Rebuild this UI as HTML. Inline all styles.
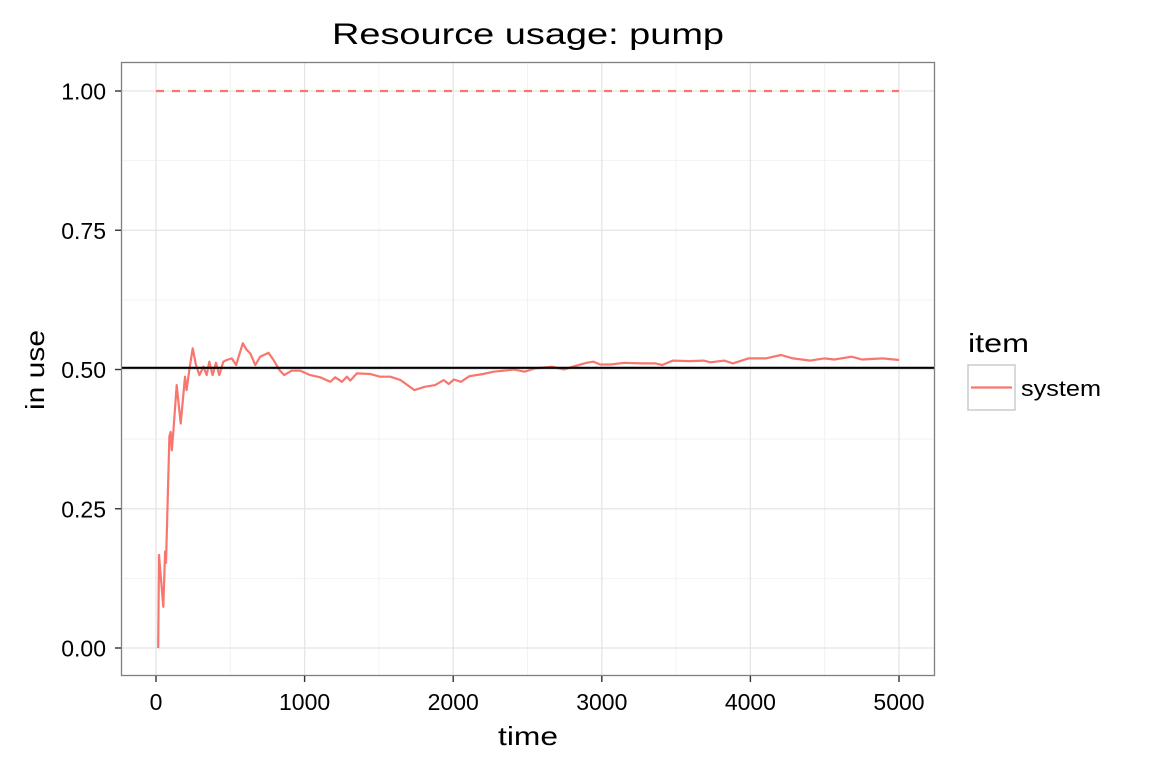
<!DOCTYPE html>
<html><head><meta charset="utf-8"><style>
body{margin:0;background:#fff;}
text{font-family:"Liberation Sans",Arial,sans-serif;}
</style></head><body>
<svg id="chart" width="1152" height="768" xmlns="http://www.w3.org/2000/svg">
<rect width="1152" height="768" fill="#fff"/>
<text x="332" y="44" font-size="30" textLength="392" lengthAdjust="spacingAndGlyphs">Resource usage: pump</text>
<g id="grid"></g>
<g id="marks"></g>
<rect x="121.5" y="62.5" width="813" height="613" fill="none" stroke="#7f7f7f" stroke-width="1.3"/>
<g id="axes"></g>
<text x="498" y="745" font-size="26" textLength="60" lengthAdjust="spacingAndGlyphs">time</text>
<text transform="translate(44,410) rotate(-90)" font-size="26" textLength="80" lengthAdjust="spacingAndGlyphs">in use</text>
<g>
<text x="968" y="352" font-size="26" textLength="61" lengthAdjust="spacingAndGlyphs">item</text>
<rect x="968" y="365" width="47" height="45" fill="#fff" stroke="#cccccc" stroke-width="1.5"/>
<line x1="971" y1="387.5" x2="1012" y2="387.5" stroke="#F8766D" stroke-width="2.2"/>
<text x="1021" y="396" font-size="22" textLength="80" lengthAdjust="spacingAndGlyphs">system</text>
</g>
</svg>
<script>
const times=[15,20,49,61,67,90,99,106,117,139,166,195,206,224,247,269,292,319,341,359,381,404,426,453,476,510,539,584,611,634,668,701,757,791,831,863,914,970,1038,1105,1173,1206,1251,1285,1307,1352,1442,1507,1577,1646,1739,1808,1878,1936,1970,2005,2052,2109,2202,2272,2341,2411,2480,2550,2666,2747,2804,2897,2943,2990,3059,3152,3268,3361,3407,3476,3592,3685,3731,3824,3882,3986,4102,4206,4287,4403,4496,4565,4681,4751,4890,5000];
const values=[0,.167,.074,.173,.153,.38,.388,.355,.39,.472,.403,.487,.463,.499,.538,.508,.49,.505,.49,.514,.49,.512,.49,.514,.517,.52,.508,.547,.535,.529,.508,.523,.53,.517,.499,.49,.498,.498,.49,.486,.478,.486,.478,.487,.48,.493,.492,.487,.487,.481,.463,.469,.472,.481,.474,.482,.478,.488,.492,.496,.498,.5,.496,.502,.505,.5,.505,.512,.514,.509,.509,.512,.511,.511,.508,.516,.515,.516,.513,.516,.511,.52,.52,.526,.52,.516,.52,.518,.523,.518,.52,.517];
const meanValue=[0.503];
const capacity=[1.0];
const xTicks=[0,1000,2000,3000,4000,5000];
const xTickLabels=["0","1000","2000","3000","4000","5000"];
const yTicks=[0,0.25,0.5,0.75,1];
const yTickLabels=["0.00","0.25","0.50","0.75","1.00"];
const X=t=>156+t*743/5000;
const Y=v=>648-v*557;
const NS="http://www.w3.org/2000/svg";
function mk(tag,attrs,parent){const e=document.createElementNS(NS,tag);for(const k in attrs)e.setAttribute(k,attrs[k]);parent.appendChild(e);return e;}
const grid=document.getElementById('grid'),marks=document.getElementById('marks'),axes=document.getElementById('axes');
mk('rect',{x:121,y:62,width:814,height:614,fill:'#fff'},grid);
for(let i=0;i<xTicks.length;i++){
 const xm=X(xTicks[i]+500);
 if(xTicks[i]+500<=5200){const m=mk('line',{x1:xm,x2:xm,y1:62,y2:676,stroke:'#f2f2f2','stroke-width':1},grid);
 
 }
}
for(let i=0;i<yTicks.length;i++){
 if(i<yTicks.length-1){const m=mk('line',{x1:121,x2:935,y1:Y(yTicks[i]+0.125),y2:Y(yTicks[i]+0.125),stroke:'#f2f2f2','stroke-width':1},grid);
 
 }
}
xTicks.forEach((t,i)=>{
 const x=X(t);
 const g=mk('line',{x1:x,x2:x,y1:62,y2:676,stroke:'#e5e5e5','stroke-width':1.3},grid);
 
 
 mk('line',{x1:x,x2:x,y1:676,y2:682,stroke:'#333','stroke-width':1.4},axes);
 const l=mk('text',{x:x,y:710,'font-size':23,'text-anchor':'middle'},axes);
 l.textContent=xTickLabels[i];
 
 
});
yTicks.forEach((v,i)=>{
 const y=Y(v);
 const g=mk('line',{x1:121,x2:935,y1:y,y2:y,stroke:'#e5e5e5','stroke-width':1.3},grid);
 
 
 mk('line',{x1:115,x2:121,y1:y,y2:y,stroke:'#333','stroke-width':1.4},axes);
 const l=mk('text',{x:106,y:y+8.5,'font-size':23,'text-anchor':'end'},axes);
 l.textContent=yTickLabels[i];
 
 
});
const cap=mk('line',{x1:X(0),x2:X(5000),y1:Y(capacity[0]),y2:Y(capacity[0]),stroke:'#F8766D','stroke-width':2.2,'stroke-dasharray':'8,8'},marks);


const d=times.map((t,i)=>(i?'L':'M')+X(t).toFixed(1)+','+Y(values[i]).toFixed(1)).join('');
const p=mk('path',{d:d,fill:'none',stroke:'#F8766D','stroke-width':2.2,'stroke-linejoin':'round'},marks);


const mean=mk('line',{x1:121,x2:935,y1:Y(meanValue[0]),y2:Y(meanValue[0]),stroke:'#000','stroke-width':2.2},marks);


</script>
</body></html>
